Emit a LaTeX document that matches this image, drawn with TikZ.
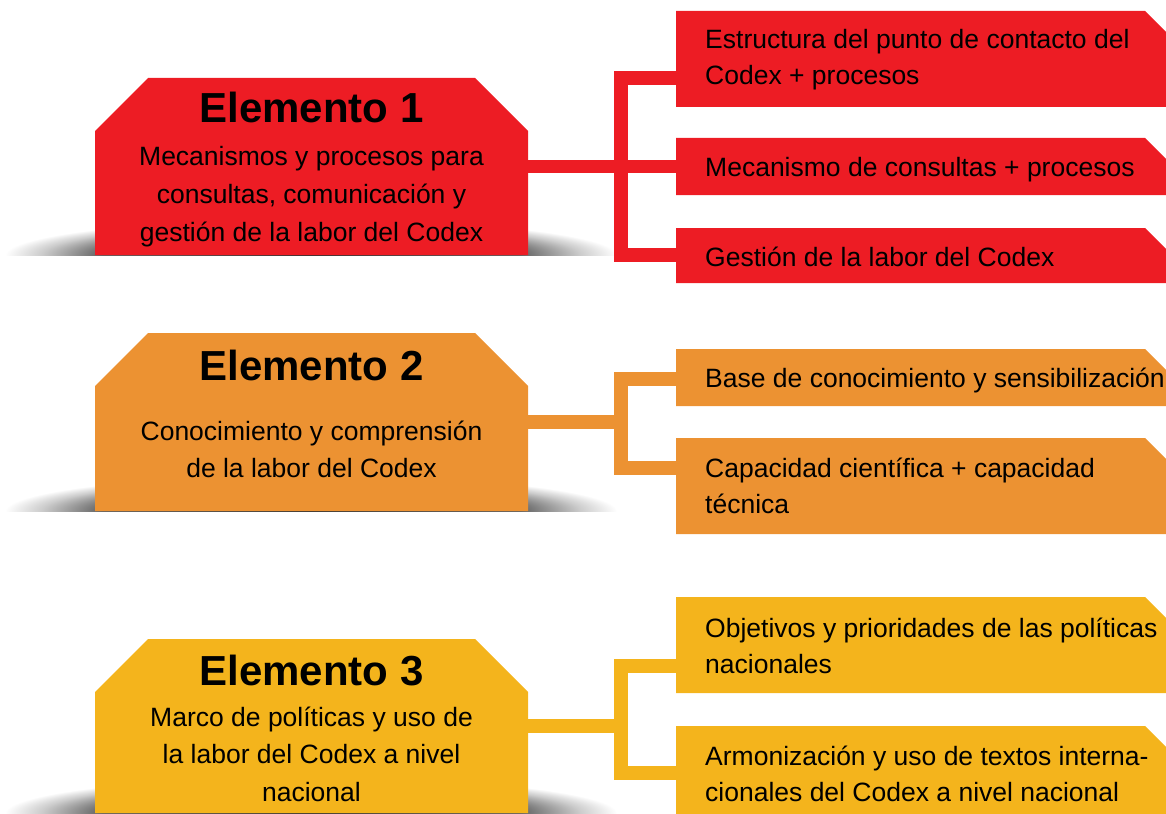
\documentclass[tikz,border=0pt]{standalone}
\usepackage{fontspec}
\setmainfont{Liberation Sans}
\definecolor{codexred}{HTML}{ED1C24}
\definecolor{codexorange}{HTML}{EC9232}
\definecolor{codexyellow}{HTML}{F4B41C}
\pgfdeclareradialshading{elemshadow}{\pgfpoint{0bp}{0bp}}{color(0bp)=(black!80); color(17bp)=(black!62); color(22bp)=(black!20); color(25bp)=(white); color(50bp)=(white)}
% boxes with cut corners, filled from the anchors of a plain node
\newcommand{\elemfill}[2]{\fill[#2] (#1.south west) -- ([yshift=-53pt]#1.north west) -- ([xshift=53pt]#1.north west) -- ([xshift=-53pt]#1.north east) -- ([yshift=-53pt]#1.north east) -- (#1.south east) -- cycle;}
\newcommand{\itemfill}[2]{\fill[#2] (#1.south west) -- (#1.north west) -- ([xshift=-45pt]#1.north east) -- ([yshift=-45pt]#1.north east) -- (#1.south east) -- cycle;}

\tikzset{
  elembox/.style={rectangle, minimum width=433pt, inner sep=0pt, outer sep=0pt},
  itembox/.style={rectangle, minimum width=514pt, inner sep=0pt, outer sep=0pt, anchor=west},
  titletxt/.style={font=\fontsize{42}{48}\selectfont\bfseries, anchor=base, inner sep=0pt},
  bodytxt/.style={font=\fontsize{26.5}{37.5}\selectfont, anchor=base, inner sep=0pt},
  itemtxt/.style={font=\fontsize{26.5}{36}\selectfont, anchor=base west, inner sep=0pt},
  link/.style={line width=13.5pt}
}

\begin{document}
\begin{tikzpicture}[x=1pt,y=-1pt]
    \useasboundingbox (0,0) rectangle (1166,813);
    \clip (0,0) rectangle (1166,813);

    %Shadows
    \foreach \yb in {255,511,813}{
      \begin{scope}
        \clip (0,\yb-40) rectangle (630,\yb);
        \shade[shading=elemshadow] (311,\yb) ellipse (306 and 36);
      \end{scope}
    }

    %Element 1
    \node[elembox, minimum height=177pt] (e1) at (311.5,166.5) {};
    \elemfill{e1}{codexred}
    \node[titletxt] (e1t) at (311.5,123) {Elemento 1};
    \node[bodytxt] (e1b) at (311.5,166) {\begin{tabular}[t]{@{}c@{}}Mecanismos y procesos para\\consultas, comunicación y\\gestión de la labor del Codex\end{tabular}};
    \node[itembox, minimum height=96pt] (r11) at (676,59) {};
    \node[itembox, minimum height=57pt] (r12) at (676,166.5) {};
    \node[itembox, minimum height=55pt] (r13) at (676,255.5) {};
    \itemfill{r11}{codexred}
    \itemfill{r12}{codexred}
    \itemfill{r13}{codexred}
    \node[itemtxt] (r11t) at (705,49) {\begin{tabular}[t]{@{}l@{}}Estructura del punto de contacto del\\Codex + procesos\end{tabular}};
    \node[itemtxt] (r12t) at (705,177) {Mecanismo de consultas + procesos};
    \node[itemtxt] (r13t) at (705,266) {Gestión de la labor del Codex};
    \coordinate (j1a) at (621,78);
    \coordinate (j1b) at (621,255);
    \draw[link, codexred] (e1.east) -- (r12.west);
    \draw[link, codexred] (r11.west |- j1a) -- (j1a) -- (j1b) -- (r13.west |- j1b);

    %Element 2
    \node[elembox, minimum height=178pt] (e2) at (311.5,422) {};
    \elemfill{e2}{codexorange}
    \node[titletxt] (e2t) at (311.5,380) {Elemento 2};
    \node[bodytxt] (e2b) at (311.5,440) {\begin{tabular}[t]{@{}c@{}}Conocimiento y comprensión\\de la labor del Codex\end{tabular}};
    \node[itembox, minimum height=57pt] (r21) at (676,377.5) {};
    \node[itembox, minimum height=96pt] (r22) at (676,486) {};
    \itemfill{r21}{codexorange}
    \itemfill{r22}{codexorange}
    \node[itemtxt] (r21t) at (705,387) {Base de conocimiento y sensibilización};
    \node[itemtxt] (r22t) at (705,477) {\begin{tabular}[t]{@{}l@{}}Capacidad científica + capacidad\\técnica\end{tabular}};
    \coordinate (j2a) at (621,379);
    \coordinate (j2b) at (621,468);
    \draw[link, codexorange] (e2.east) -- (e2.east -| j2a);
    \draw[link, codexorange] (r21.west |- j2a) -- (j2a) -- (j2b) -- (r22.west |- j2b);

    %Element 3
    \node[elembox, minimum height=174pt] (e3) at (311.5,726) {};
    \elemfill{e3}{codexyellow}
    \node[titletxt] (e3t) at (311.5,685) {Elemento 3};
    \node[bodytxt] (e3b) at (311.5,726) {\begin{tabular}[t]{@{}c@{}}Marco de políticas y uso de\\la labor del Codex a nivel\\nacional\end{tabular}};
    \node[itembox, minimum height=96pt] (r31) at (676,645) {};
    \node[itembox, minimum height=94pt] (r32) at (676,773) {};
    \itemfill{r31}{codexyellow}
    \itemfill{r32}{codexyellow}
    \node[itemtxt] (r31t) at (705,637) {\begin{tabular}[t]{@{}l@{}}Objetivos y prioridades de las políticas\\nacionales\end{tabular}};
    \node[itemtxt] (r32t) at (705,765) {\begin{tabular}[t]{@{}l@{}}Armonización y uso de textos interna-\\cionales del Codex a nivel nacional\end{tabular}};
    \coordinate (j3a) at (621,666);
    \coordinate (j3b) at (621,773);
    \draw[link, codexyellow] (e3.east) -- (e3.east -| j3a);
    \draw[link, codexyellow] (r31.west |- j3a) -- (j3a) -- (j3b) -- (r32.west |- j3b);
\end{tikzpicture}
\end{document}
